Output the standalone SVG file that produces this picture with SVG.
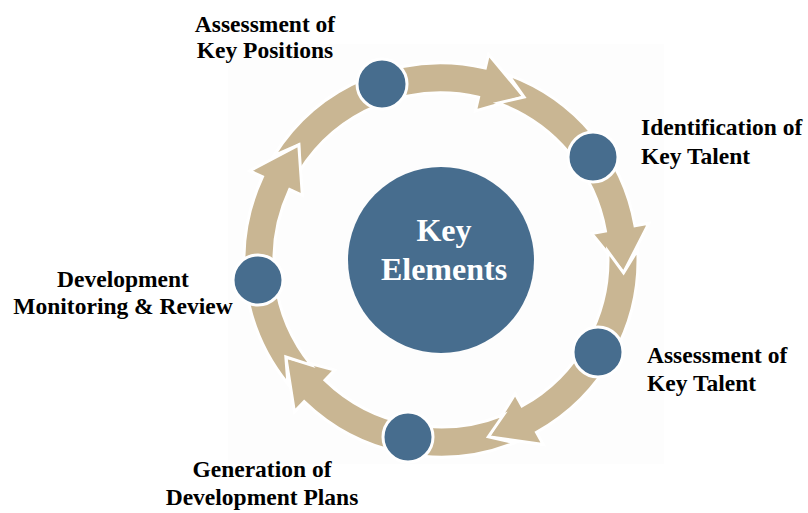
<svg xmlns="http://www.w3.org/2000/svg" width="808" height="513" viewBox="0 0 808 513">
  <style>
    .arrow { fill: #c9b693; stroke: #ffffff; stroke-width: 3; stroke-linejoin: miter; }
    .dot { fill: #476d8e; stroke: #ffffff; stroke-width: 3; }
    .label { font-family: "Liberation Serif", "Times New Roman", serif; font-weight: bold; font-size: 23.5px; fill: #000000; }
    .center-label { font-family: "Liberation Serif", "Times New Roman", serif; font-weight: bold; font-size: 32px; fill: #ffffff; text-anchor: middle; }
  </style>
  <rect x="0" y="0" width="808" height="513" fill="#ffffff"/>
  <rect x="228" y="44" width="436" height="420" fill="#fdfdfd"/>

  <g id="connectors">
    <path class="arrow" d="M273.94,155.61 A197,197 0 0 1 485.33,68.04 L488.48,54.40 L524.08,96.95 L475.43,110.92 L478.58,97.28 A167,167 0 0 0 299.38,171.51 L298.79,144.84 Z"/>
    <path class="arrow" d="M508.37,74.88 A197,197 0 0 1 635.01,225.80 L648.79,223.37 L623.56,272.77 L591.67,233.44 L605.46,231.01 A167,167 0 0 0 498.11,103.07 L524.08,96.95 Z"/>
    <path class="arrow" d="M637.72,249.70 A197,197 0 0 1 536.51,432.30 L543.29,444.54 L488.36,436.76 L515.17,393.81 L521.96,406.06 A167,167 0 0 0 607.77,251.27 L623.56,272.77 Z"/>
    <path class="arrow" d="M514.80,442.66 A197,197 0 0 1 304.14,401.70 L294.42,411.77 L285.82,356.97 L334.71,370.05 L324.99,380.12 A167,167 0 0 0 503.56,414.84 L488.36,436.76 Z"/>
    <path class="arrow" d="M287.91,383.97 A197,197 0 0 1 262.46,176.75 L249.77,170.83 L298.79,144.84 L302.34,195.34 L289.65,189.43 A167,167 0 0 0 311.22,365.09 L285.82,356.97 Z"/>
  </g>

  <g id="node-center">
    <circle cx="441" cy="260" r="93" fill="#476d8e"/>
    <text class="center-label" x="444" y="241">Key</text>
    <text class="center-label" x="444" y="280">Elements</text>
  </g>

  <g id="node-assessment-key-positions">
    <circle class="dot" cx="382" cy="84" r="25"/>
    <text class="label" text-anchor="middle" x="265" y="32">Assessment of</text>
    <text class="label" text-anchor="middle" x="265" y="58">Key Positions</text>
  </g>

  <g id="node-identification-key-talent">
    <circle class="dot" cx="593" cy="157" r="25"/>
    <text class="label" x="641" y="135">Identification of</text>
    <text class="label" x="641" y="163.5">Key Talent</text>
  </g>

  <g id="node-assessment-key-talent">
    <circle class="dot" cx="598" cy="352" r="25"/>
    <text class="label" x="647" y="363">Assessment of</text>
    <text class="label" x="647" y="391">Key Talent</text>
  </g>

  <g id="node-generation-development-plans">
    <circle class="dot" cx="408" cy="437" r="25"/>
    <text class="label" text-anchor="middle" x="262" y="477">Generation of</text>
    <text class="label" text-anchor="middle" x="262" y="505">Development Plans</text>
  </g>

  <g id="node-development-monitoring-review">
    <circle class="dot" cx="258" cy="280" r="25"/>
    <text class="label" text-anchor="middle" x="123" y="287">Development</text>
    <text class="label" text-anchor="middle" x="123" y="314">Monitoring &amp; Review</text>
  </g>
</svg>
